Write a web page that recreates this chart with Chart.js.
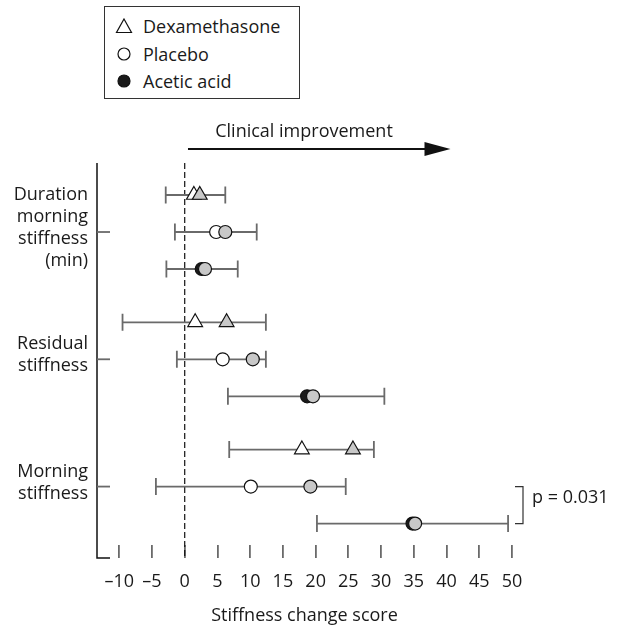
<!DOCTYPE html>
<html lang="en">
<head>
    <meta charset="UTF-8">
    <title>Stiffness change score</title>
    <style>
        body {
            margin: 0;
            background: #fff;
            font-family: "Open Sans", sans-serif;
        }
        #wrap {
            position: relative;
            width: 629px;
            height: 628px;
        }
        #legend {
            position: absolute;
            left: 104px;
            top: 6px;
            width: 196px;
            height: 93px;
            border: 1px solid #333;
            box-sizing: border-box;
            background: #fff;
        }
        .legend-row {
            position: absolute;
            left: 0;
            height: 24px;
            display: flex;
            align-items: center;
            font-size: 18px;
            color: #1a1a1a;
        }
        .legend-row svg {
            margin-left: 10px;
            margin-right: 10px;
        }
    </style>
    <script src="https://cdn.jsdelivr.net/npm/chart.js"></script>
</head>
<body>
<div id="wrap">
    <canvas id="chart" width="629" height="628"></canvas>
    <div id="legend"></div>
</div>
<script>
    // groups on the y axis (top to bottom)
    const groupLabels = [
        ['Duration', 'morning', 'stiffness', '(min)'],
        ['Residual', 'stiffness'],
        ['Morning', 'stiffness']
    ];
    const treatments = ['Dexamethasone', 'Placebo', 'Acetic acid'];
    const xTicks = [-10, -5, 0, 5, 10, 15, 20, 25, 30, 35, 40, 45, 50];

    // first marker (open / black) and second marker (grey), one value per group
    const dexaFirst = [1.4, 1.6, 17.9];
    const dexaSecond = [2.3, 6.4, 25.7];
    const dexaLow = [-2.9, -9.5, 6.8];
    const dexaHigh = [6.2, 12.4, 28.9];

    const placeboFirst = [4.8, 5.8, 10.1];
    const placeboSecond = [6.2, 10.4, 19.2];
    const placeboLow = [-1.5, -1.2, -4.4];
    const placeboHigh = [11.0, 12.4, 24.6];

    const aceticFirst = [2.6, 18.7, 34.8];
    const aceticSecond = [3.1, 19.6, 35.2];
    const aceticLow = [-2.8, 6.6, 20.2];
    const aceticHigh = [8.1, 30.5, 49.4];

    const pLabel = 'p = 0.031';

    // row layout (in y-scale units)
    const rowOffset = 0.865;
    const groupStep = 3.44;
    const yMax = 10.324;
    function rowPos(g, t) { return rowOffset + g * groupStep + t; }

    const FONT = '"Open Sans", sans-serif';
    const GREY_FILL = '#c8c8c8';
    const BAR = '#6a6a6a';

    const firsts = [dexaFirst, placeboFirst, aceticFirst];
    const seconds = [dexaSecond, placeboSecond, aceticSecond];
    const lows = [dexaLow, placeboLow, aceticLow];
    const highs = [dexaHigh, placeboHigh, aceticHigh];
    const styles = ['triangle', 'circle', 'circle'];
    const firstFill = ['#ffffff', '#ffffff', '#1a1a1a'];
    const radii = [8.5, 6.5, 6.5];

    const datasets = [];
    treatments.forEach((name, t) => {
        datasets.push({
            label: name,
            data: firsts[t].map((v, g) => ({ x: v, y: rowPos(g, t) })),
            errLow: lows[t],
            errHigh: highs[t],
            pointStyle: styles[t],
            radius: radii[t],
            backgroundColor: firstFill[t],
            borderColor: '#111',
            borderWidth: 1.2,
            order: 1
        });
        datasets.push({
            label: name + ' (grey)',
            data: seconds[t].map((v, g) => ({ x: v, y: rowPos(g, t) })),
            pointStyle: styles[t],
            radius: radii[t],
            backgroundColor: GREY_FILL,
            borderColor: '#111',
            borderWidth: 1.2,
            order: 0
        });
    });

    const extras = {
        id: 'extras',
        beforeDatasetsDraw(chart) {
            const { ctx, chartArea: a, scales: { x, y } } = chart;
            const bottom = a.bottom + 13;
            ctx.save();

            // zero line
            const x0 = x.getPixelForValue(0);
            ctx.strokeStyle = '#111';
            ctx.lineWidth = 1.2;
            ctx.setLineDash([6, 3]);
            ctx.beginPath();
            ctx.moveTo(x0, a.top);
            ctx.lineTo(x0, bottom);
            ctx.stroke();
            ctx.setLineDash([]);

            // y axis line and corner stub
            ctx.lineWidth = 1.5;
            ctx.beginPath();
            ctx.moveTo(a.left, a.top);
            ctx.lineTo(a.left, bottom);
            ctx.lineTo(a.left + 13, bottom);
            ctx.stroke();

            // inward group ticks
            ctx.strokeStyle = BAR;
            ctx.lineWidth = 1.8;
            groupLabels.forEach((l, g) => {
                const py = y.getPixelForValue(rowPos(g, 1));
                ctx.beginPath();
                ctx.moveTo(a.left, py);
                ctx.lineTo(a.left + 13, py);
                ctx.stroke();
            });

            // error bars
            chart.data.datasets.forEach(ds => {
                if (!ds.errLow) return;
                ds.data.forEach((p, i) => {
                    const py = y.getPixelForValue(p.y);
                    const xl = x.getPixelForValue(ds.errLow[i]);
                    const xh = x.getPixelForValue(ds.errHigh[i]);
                    ctx.beginPath();
                    ctx.moveTo(xl, py);
                    ctx.lineTo(xh, py);
                    ctx.moveTo(xl, py - 8.5);
                    ctx.lineTo(xl, py + 8.5);
                    ctx.moveTo(xh, py - 8.5);
                    ctx.lineTo(xh, py + 8.5);
                    ctx.stroke();
                });
            });
            ctx.restore();
        },
        afterDraw(chart) {
            const { ctx, scales: { x, y } } = chart;
            ctx.save();

            // clinical improvement arrow
            const ax1 = x.getPixelForValue(0.5);
            const ax2 = x.getPixelForValue(40.6);
            const ay = 149;
            ctx.strokeStyle = '#111';
            ctx.fillStyle = '#111';
            ctx.lineWidth = 2;
            ctx.beginPath();
            ctx.moveTo(ax1, ay);
            ctx.lineTo(ax2 - 16, ay);
            ctx.stroke();
            ctx.beginPath();
            ctx.moveTo(ax2, ay);
            ctx.lineTo(ax2 - 26, ay - 7);
            ctx.lineTo(ax2 - 26, ay + 7);
            ctx.closePath();
            ctx.fill();

            ctx.font = '18px ' + FONT;
            ctx.fillStyle = '#1a1a1a';
            ctx.textAlign = 'center';
            ctx.textBaseline = 'middle';
            ctx.fillText('Clinical improvement', 304, 132);

            // p bracket between placebo and acetic acid (morning stiffness)
            const y1 = y.getPixelForValue(rowPos(2, 1));
            const y2 = y.getPixelForValue(rowPos(2, 2));
            const bx = 523;
            ctx.strokeStyle = '#333';
            ctx.lineWidth = 1.2;
            ctx.beginPath();
            ctx.moveTo(bx - 8, y1);
            ctx.lineTo(bx, y1);
            ctx.lineTo(bx, y2);
            ctx.lineTo(bx - 8, y2);
            ctx.stroke();
            ctx.textAlign = 'left';
            ctx.fillText(pLabel, 532, 498);
            ctx.restore();
        }
    };

    new Chart(document.getElementById('chart'), {
        type: 'scatter',
        data: { datasets: datasets },
        options: {
            responsive: false,
            animation: false,
            layout: { padding: { top: 163, right: 117, bottom: 0, left: 0 } },
            plugins: {
                legend: { display: false },
                tooltip: { enabled: false }
            },
            scales: {
                x: {
                    type: 'linear',
                    min: -13.4,
                    max: 50,
                    afterBuildTicks: s => { s.ticks = xTicks.map(v => ({ value: v })); },
                    afterFit: s => { s.height = 83; },
                    border: { display: false },
                    grid: {
                        drawOnChartArea: false,
                        drawTicks: true,
                        tickLength: 13,
                        color: BAR,
                        lineWidth: 1.8
                    },
                    ticks: {
                        padding: 13,
                        minRotation: 0,
                        maxRotation: 0,
                        autoSkip: false,
                        color: '#1a1a1a',
                        font: { family: FONT, size: 18 },
                        callback: v => v < 0 ? '\u2013' + Math.abs(v) : String(v)
                    },
                    title: {
                        display: true,
                        text: 'Stiffness change score',
                        color: '#1a1a1a',
                        font: { family: FONT, size: 18 },
                        padding: { top: 0, bottom: 1 }
                    }
                },
                y: {
                    type: 'linear',
                    reverse: true,
                    min: 0,
                    max: yMax,
                    afterBuildTicks: s => { s.ticks = groupLabels.map((l, g) => ({ value: rowPos(g, 1) })); },
                    afterFit: s => { s.width = 97; },
                    border: { display: false },
                    grid: { display: false, drawTicks: false },
                    ticks: {
                        padding: 9,
                        labelOffset: -4,
                        color: '#1a1a1a',
                        font: { family: FONT, size: 18, lineHeight: 1.22 },
                        callback: (v, i) => groupLabels[i]
                    }
                }
            }
        },
        plugins: [extras]
    });

    // legend (only the three treatments)
    const legendSymbols = [
        '<svg width="18" height="16"><polygon points="9,1 16.5,14.5 1.5,14.5" fill="#fff" stroke="#111" stroke-width="1.2"/></svg>',
        '<svg width="18" height="16"><circle cx="9" cy="8" r="6" fill="#fff" stroke="#111" stroke-width="1.2"/></svg>',
        '<svg width="18" height="16"><circle cx="9" cy="8" r="6" fill="#1a1a1a" stroke="#111" stroke-width="1.2"/></svg>'
    ];
    const legendTops = [7, 35, 62];
    const legend = document.getElementById('legend');
    treatments.forEach((name, t) => {
        const row = document.createElement('div');
        row.className = 'legend-row';
        row.style.top = legendTops[t] + 'px';
        row.innerHTML = legendSymbols[t] + '<span>' + name + '</span>';
        legend.appendChild(row);
    });
</script>
</body>
</html>
